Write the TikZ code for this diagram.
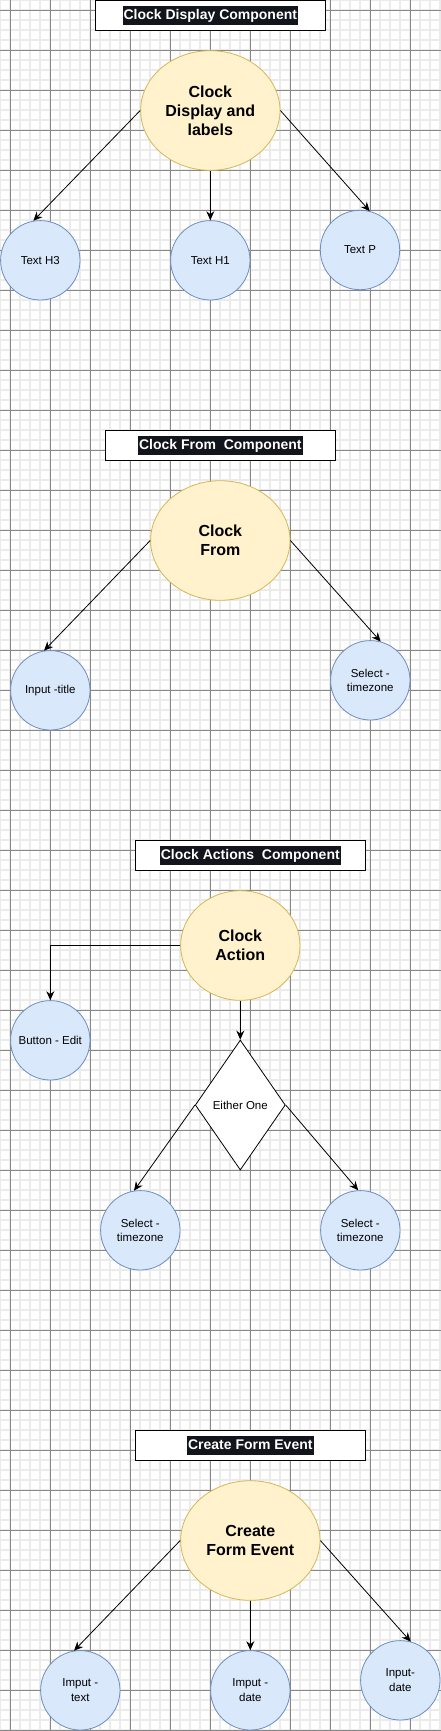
\documentclass[tikz,border=0pt]{standalone}
\usepackage{fontspec}
\setmainfont{Liberation Sans}
\usetikzlibrary{shapes.geometric,arrows.meta}
\definecolor{minorgrid}{HTML}{EBEBEB}
\definecolor{majorgrid}{HTML}{888888}
\definecolor{yfill}{HTML}{FFF2CC}
\definecolor{ystroke}{HTML}{D6B656}
\definecolor{bfill}{HTML}{DAE8FC}
\definecolor{bstroke}{HTML}{6C8EBF}
\definecolor{hl}{HTML}{12151B}
\tikzset{
  titlebox/.style={draw=black,line width=1pt,fill=white,minimum width=230pt,minimum height=29.6pt,inner sep=0pt},
  titletext/.style={fill=hl,text=white,font=\fontsize{14}{16}\selectfont\bfseries,inner xsep=1pt,inner ysep=0pt,minimum height=19pt,text height=10.5pt,text depth=3pt},
  bigell/.style={ellipse,draw=ystroke,fill=yfill,line width=0.8pt,inner sep=0pt,align=center,font=\fontsize{16}{19.2}\selectfont\bfseries},
  leaf/.style={circle,draw=bstroke,fill=bfill,line width=0.8pt,minimum size=79.4pt,inner sep=0pt,align=center,font=\fontsize{11.5}{14.5}\selectfont},
  choice/.style={diamond,draw=black,fill=white,line width=0.8pt,minimum width=90pt,minimum height=130pt,inner sep=0pt,font=\fontsize{11.5}{14.5}\selectfont},
  conn/.style={draw=black,line width=0.8pt,-{Stealth[length=9pt,width=8pt,inset=3pt]}}
}
\begin{document}
\begin{tikzpicture}[x=1pt,y=-1pt]
\useasboundingbox (0,0) rectangle (441,1731);
\fill[white] (0,0) rectangle (441,1731);
\begin{scope}
\clip (0,0) rectangle (441,1731);
\foreach \x in {0,10,...,440}
  {\draw[minorgrid,line width=1.4pt] (\x,0) -- (\x,1731);}
\foreach \y in {0,10,...,1730}
  {\draw[minorgrid,line width=1.4pt] (0,\y) -- (441,\y);}
\foreach \x in {10,50,...,410}
  {\draw[majorgrid,line width=0.8pt] (\x,0) -- (\x,1731);}
\foreach \y in {10,50,...,1730}
  {\draw[majorgrid,line width=0.8pt] (0,\y) -- (441,\y);}
\end{scope}

% ---------- Section 1 ----------
\node[titlebox] (t1) at (210.3,15.5) {};
\node[titletext] (t1t) at (210.3,15.5) {Clock Display Component};
\node[bigell,minimum width=139.4pt,minimum height=119.6pt] (e1) at (210.3,110.5) {Clock\\Display and\\labels};
\node[leaf] (h3) at (40.3,260.3) {Text H3};
\node[leaf] (h1) at (210.3,260.3) {Text H1};
\node[leaf] (tp) at (360,250) {Text P};
\draw[conn] (e1.west) -- (h3.100);
\draw[conn] (e1.south) -- (h1.north);
\draw[conn] (e1.east) -- (tp.76);

% ---------- Section 2 ----------
\node[titlebox] (t2) at (220.3,445.3) {};
\node[titletext] (t2t) at (220.3,445.3) {Clock From~ Component};
\node[bigell,minimum width=139.4pt,minimum height=119.6pt] (e2) at (220.3,540.5) {Clock\\From};
\node[leaf] (it) at (50.3,690.3) {Input -title};
\node[leaf] (st) at (370.3,680.3) {Select -\\timezone};
\draw[conn] (e2.west) -- (it.99);
\draw[conn] (e2.east) -- (st.75);

% ---------- Section 3 ----------
\node[titlebox] (t3) at (250.3,855.3) {};
\node[titletext] (t3t) at (250.3,855.3) {Clock Actions~ Component};
\node[bigell,minimum width=119.4pt,minimum height=109.6pt] (e3) at (240.3,945.5) {Clock\\Action};
\node[leaf] (be) at (50.3,1040.3) {Button - Edit};
\node[choice] (dia) at (240.3,1105) {Either One};
\node[leaf] (sa) at (140.3,1230.3) {Select -\\timezone};
\node[leaf] (sb) at (360.3,1230.3) {Select -\\timezone};
\draw[conn] (e3.west) -| (be.north);
\draw[conn] (e3.south) -- (dia.north);
\draw[conn] (dia.west) -- (sa.99);
\draw[conn] (dia.east) -- (sb.93);

% ---------- Section 4 ----------
\node[titlebox] (t4) at (250.3,1445.3) {};
\node[titletext] (t4t) at (250.3,1445.3) {Create Form Event};
\node[bigell,minimum width=139.4pt,minimum height=119.6pt] (e4) at (250.3,1540.5) {Create\\Form Event};
\node[leaf] (ix) at (80.3,1690.3) {Imput -\\text};
\node[leaf] (idt) at (250.3,1690.3) {Imput -\\date};
\node[leaf] (id2) at (400.3,1680.3) {Input-\\date};
\draw[conn] (e4.west) -- (ix.99);
\draw[conn] (e4.south) -- (idt.north);
\draw[conn] (e4.east) -- (id2.75);
\end{tikzpicture}
\end{document}
